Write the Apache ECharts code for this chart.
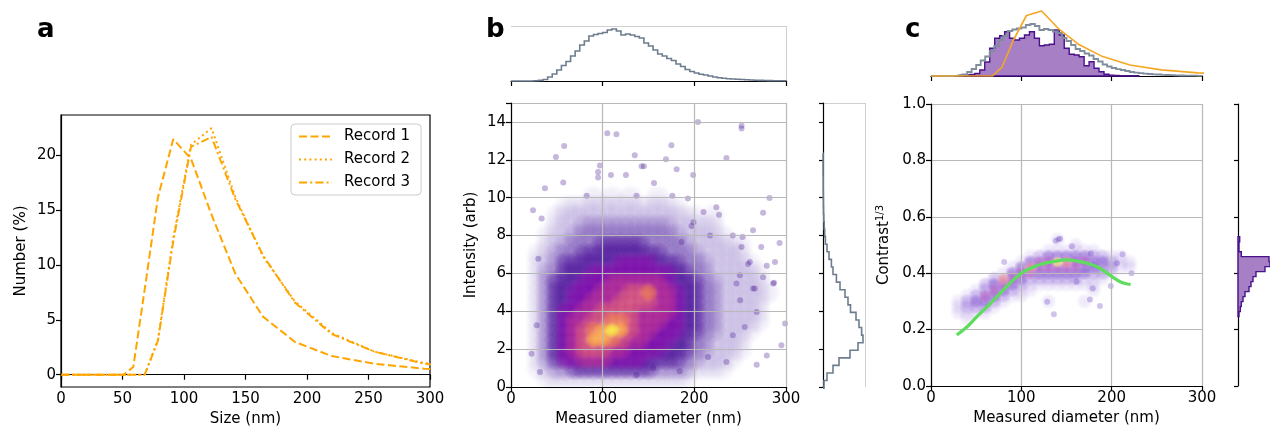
<!DOCTYPE html>
<html>
<head>
<meta charset="utf-8">
<script src="https://cdn.jsdelivr.net/npm/echarts@6/dist/echarts.min.js"></script>
<style>html,body{margin:0;padding:0;background:#fff;}#chart{width:1270px;height:427px;}</style>
</head>
<body>
<div id="chart"></div>
<script>
// ---------------- DATA ----------------
// Panel a: DLS number distributions
const sizeNm  = [0.4, 10.1, 21.04, 32.67, 43.82, 50.75, 58.77, 68.06, 78.82, 91.28, 105.7, 122.4, 141.8, 164.2, 190.1, 220.2, 255.0, 295.3, 342.0];
const record1 = [0, 0, 0, 0, 0, 0, 0.7, 7.8, 16.2, 21.5, 19.7, 14.6, 9.2, 5.3, 3.0, 1.7, 1.0, 0.55, 0.3];
const record2 = [0, 0, 0, 0, 0, 0, 0, 0, 3.2, 12.5, 21.0, 22.5, 16.2, 10.8, 6.7, 3.8, 2.1, 1.06, 0.55];
const record3 = [0, 0, 0, 0, 0, 0, 0, 0, 3.1, 12.2, 20.8, 21.7, 16.0, 10.9, 6.6, 3.7, 2.1, 1.0, 0.5];
const aYTicks = [0, 5, 10, 15, 20];

// Diameter histogram (gray), bins start 0, width 5 nm
const diamBinStart = 0, diamBinWidth = 5;
const diamHist = [0,0,0,0,0, 0.2,0.6,1.5,4,7, 11,15.5,19.5,25,30, 36,40,45,46.5,47.5,
  48.5,51,52,50,46, 47,46,44.5,43,38, 35,31,27,25,22.5, 20.5,17,14.5,11.5,9.5,
  8,6.8,6,5,4, 3.3,2.8,2.3,2,1.7, 1.5,1.2,1,0.8,0.6, 0.5,0.4,0.3,0.3,0.2];

// Intensity histogram (gray, right of b), bins start -0.06, width 0.4
const intBinStart = -0.06, intBinWidth = 0.4;
const intHist = [1,4,10,16,27,35,40,38.6,36,33,27.5,25,22,17,13.4,10,8.4,6,4,2.4,1.7,1.2,0.8,0.5,0.4,0.3,0.2,0.2,0.1,0.1,0.1];

// Panel b density (levels 0-9), columns = diameters, rows = intensities
const bDensX = [20,30,40,50,60,70,80,90,100,110,120,130,140,150,160,170,180,190,200,210,220,230,240,250,260,270,280,290];
const bDensY = [10,9.5,9,8.5,8,7.5,7,6.5,6,5.5,5,4.5,4,3.5,3,2.5,2,1.5,1,0.5];
const bDensity = [
 [0,0,0,0,0,0,0,1,0,1,0,1,0,0,1,0,0,0,0,0,0,0,0,0,0,0,0,0],
 [0,0,0,0,1,1,1,1,1,1,1,1,1,1,1,1,1,0,0,0,0,0,0,0,0,0,0,0],
 [0,0,0,1,1,1,1,1,1,1,1,1,1,1,1,1,1,1,1,0,1,0,0,0,0,0,0,0],
 [0,0,0,1,1,1,2,2,2,2,2,2,2,2,2,2,1,1,1,1,1,0,0,0,0,0,0,0],
 [0,0,1,1,1,2,2,2,2,2,2,2,2,2,2,2,2,1,1,1,1,1,0,0,0,0,0,0],
 [0,0,1,1,2,2,2,2,3,3,3,3,3,2,2,2,2,2,1,1,1,1,1,1,0,0,0,0],
 [0,1,1,2,2,2,3,3,3,3,3,3,3,3,3,2,2,2,2,1,1,1,1,1,0,0,0,0],
 [0,1,1,2,3,3,3,3,3,3,4,4,4,4,3,3,3,2,2,2,1,1,1,1,1,0,0,0],
 [0,1,2,2,3,3,3,4,4,4,4,4,4,4,4,4,3,3,2,2,1,1,1,1,1,1,0,0],
 [0,1,2,3,3,3,4,4,4,5,5,5,5,5,5,4,3,3,3,2,2,1,1,1,1,1,0,0],
 [0,1,2,3,3,4,4,4,5,5,5,6,6,7,5,5,4,3,3,2,2,1,1,1,1,1,1,0],
 [0,1,2,3,3,4,4,5,5,5,6,6,6,6,5,5,4,3,3,2,2,1,1,1,1,1,0,0],
 [0,1,2,3,4,4,5,5,6,6,6,6,5,5,5,5,4,3,3,2,2,1,1,1,1,1,0,0],
 [0,1,2,3,4,5,5,6,6,7,7,6,5,5,5,4,4,3,3,2,2,1,1,1,1,1,0,0],
 [0,1,2,3,4,5,6,7,8,9,8,6,5,5,4,4,4,3,3,2,2,1,1,1,1,0,0,0],
 [0,1,2,3,4,5,6,8,8,7,6,5,5,4,4,4,3,3,2,2,1,1,1,1,0,0,0,0],
 [0,1,2,3,4,5,6,6,6,5,5,4,4,4,4,3,3,3,2,2,1,1,1,1,0,0,0,0],
 [0,1,2,3,4,4,5,5,5,4,4,4,4,3,3,3,3,2,2,1,1,1,1,0,0,0,0,0],
 [0,1,1,2,2,3,3,3,3,3,3,3,3,3,2,2,2,2,1,1,1,1,0,0,0,0,0,0],
 [0,0,1,1,1,1,1,1,1,1,1,1,1,1,1,1,1,1,0,0,0,0,0,0,0,0,0,0]
];
// Panel b isolated points [diameter, intensity]
const bDots = [[204,14.0],[251.5,13.8],[251.5,13.65],[105,13.4],[115,13.35],[175,12.77],[135,12.24],[142.5,11.66],[145,11.66],
  [156,10.78],[169,12.03],[235,12.1],[58,12.73],[49,12.15],[95,11.36],[95,11.06],[109,11.2],[125.4,11.2],[198.7,11.2],[180.7,11.5],
  [275,9.2],[282,9.98],[293,7.6],[287,5.5],[295,2.2],[299,3.36],[279,1.67],[268,1.18],[252.6,7.92],[264,8.28],[227,9.1],[224,9.5],
  [242,8.0],[258.6,6.5],[275,5.8],[264,5.2],[250,4.58],[268,3.96],[255,3.17],[242,2.73],[215,1.58],[235,1.32],[184,0.83],[155,0.99],
  [137,0.62],[31.6,0.79],[22.5,1.76],[28,3.26],[29.8,6.78],[33.4,8.9],[37,10.5],[24,9.33],[57,10.8],[97,11.7],[82.5,10.1],[137,10.1],
  [176,10.1],[193,9.95],[199,8.7],[210,9.24],[217,8.0],[186,7.66],[197,8.5],[251.5,7.4],[273,7.4],[288,6.6],[279,6.4],[260.6,6.6],
  [249.7,5.9],[246,5.46],[286,5.46],[266,5.2]];

// Panel c: purple histograms (selected particles)
const cDiamBinStart = 32, cDiamBinWidth = 5.5;
const cDiamHist = [0.7,1,1.5,2.5,6,14,27.7,37.7,40.3,44.3,37.7,36,37.7,41,44.3,37.7,30.3,31,31.7,46,41,27.7,21.7,21,19.3,10.3,14.3,7.7,4.3,1.7,0.7,0.5,0.3,0.3,0.3,0.3];
const cConBinStart = 0.2462, cConBinWidth = 0.0177;
const cConHist = [1,2.3,3.3,5,7,11,13,15,18,27,32,31,3.3,1,1,1.7];
// DLS record drawn on top of panel c (scaled)
const dlsScaled = [0,0,0,0,0,0,0,0,9.2,36,60.5,65,46.8,31.2,19.4,11,6.1,3.1,1.6];

// Panel c density band
const cDensX = [30,40,50,60,70,80,90,100,110,120,130,140,150,160,170,180,190,200,210,220];
const cDensY = [0.52,0.50,0.48,0.46,0.44,0.42,0.40,0.38,0.36,0.34,0.32,0.30,0.28,0.26,0.24];
const cDensity = [
 [0,0,0,0,0,0,0,0,0,0,0,1,0,0,0,0,0,0,0,0],
 [0,0,0,0,0,0,0,0,0,0,0,0,0,1,0,0,0,0,0,0],
 [0,0,0,0,0,0,0,0,0,0,1,1,1,1,1,1,0,0,0,0],
 [0,0,0,0,0,0,0,0,1,2,3,3,3,3,3,2,2,1,1,0],
 [0,0,0,0,0,0,0,1,3,4,4,6,5,4,4,3,3,2,1,1],
 [0,0,0,0,0,0,1,3,5,4,4,4,4,4,3,3,2,2,1,1],
 [0,0,0,0,0,1,3,4,4,3,3,3,3,3,3,2,2,1,0,0],
 [0,0,0,0,2,5,4,3,2,2,2,2,2,2,1,1,1,0,0,0],
 [0,0,0,2,3,4,3,2,1,1,1,1,1,1,1,1,0,0,0,0],
 [0,0,1,2,4,3,2,1,1,0,0,0,0,0,0,1,0,0,0,0],
 [0,1,2,4,3,2,1,1,0,0,0,0,0,0,0,0,0,0,0,0],
 [1,2,3,3,2,1,0,0,0,0,1,0,0,0,1,0,0,0,0,0],
 [1,2,2,2,1,0,0,0,0,0,0,0,0,0,0,0,0,0,0,0],
 [1,1,1,1,0,0,0,0,0,0,0,0,0,0,0,0,0,0,0,0],
 [0,1,0,0,0,0,0,0,0,0,0,0,0,0,0,0,0,0,0,0]
];
const cDots = [[138,0.515],[141,0.52],[143,0.522],[156,0.496],[177,0.47],[81,0.44],[212,0.467],[222,0.40],[128.6,0.299],
  [176,0.307],[136,0.254],[199,0.355],[179,0.346],[161,0.37],[187,0.284],[206,0.435]];
// Polynomial fit (green)
const cFit = [[28.5,0.181],[40,0.21],[50,0.243],[65,0.29],[80,0.34],[100,0.40],[120,0.43],[139,0.443],[150,0.447],
  [165,0.441],[175,0.433],[184,0.423],[195,0.40],[205,0.378],[212,0.366],[221,0.36]];

// ---------------- HELPERS ----------------
function edgesFrom(start, width, n) { const e = []; for (let i = 0; i <= n; i++) e.push(start + width * i); return e; }
function stepPts(start, width, heights, horizontal) {
  const e = edgesFrom(start, width, heights.length);
  const p = [horizontal ? [0, e[0]] : [e[0], 0]];
  heights.forEach((h, i) => { if (horizontal) { p.push([h, e[i]], [h, e[i + 1]]); } else { p.push([e[i], h], [e[i + 1], h]); } });
  p.push(horizontal ? [0, e[e.length - 1]] : [e[e.length - 1], 0]);
  return p;
}
function histSeries(pts, xi, yi, fill, stroke, lw, z) {
  return { type: 'custom', xAxisIndex: xi, yAxisIndex: yi, data: [[0, 0]], silent: true, z: z, clip: false,
    renderItem: function (params, api) {
      return { type: fill ? 'polygon' : 'polyline', shape: { points: pts.map(q => api.coord(q)) },
        style: { fill: fill || 'none', stroke: stroke, lineWidth: lw } };
    } };
}
function rgba(c, a) { return 'rgba(' + c[0] + ',' + c[1] + ',' + c[2] + ',' + a + ')'; }
// Soft density blobs: radial gradient symbols fading to transparent
function densitySeries(xs, ys, grid, palette, sizes, xi, yi) {
  const out = [];
  for (let lev = 1; lev < palette.length; lev++) {
    const pts = [];
    grid.forEach((row, r) => row.forEach((v, c) => { if (v === lev) pts.push([xs[c], ys[r]]); }));
    const c = palette[lev];
    out.push({ type: 'scatter', xAxisIndex: xi, yAxisIndex: yi, data: pts, symbolSize: sizes[lev], silent: true, z: 2,
      itemStyle: { color: { type: 'radial', x: 0.5, y: 0.5, r: 0.5, colorStops: [
        { offset: 0, color: rgba(c, c[3]) }, { offset: 0.5, color: rgba(c, c[3] * 0.85) },
        { offset: 0.78, color: rgba(c, c[3] * 0.4) }, { offset: 1, color: rgba(c, 0) }] } } });
  }
  return out;
}

const FONT = 'DejaVu Sans';
const BLACK = { color: '#000', width: 1.2 };
const GRID_C = '#b8b8b8';
const lbl = { color: '#000', fontSize: 15, fontFamily: FONT, margin: 5 };
const nameStyle = { color: '#000', fontSize: 15, fontFamily: FONT };
const tick = { show: true, length: 5, lineStyle: BLACK };
const T = 'rgba(0,0,0,0)';

const bPalette = [null, [95,60,175,0.12], [82,35,162,0.30], [68,8,150,0.62], [120,6,168,0.85], [168,32,148,0.9],
  [205,70,120,0.92], [234,112,76,0.95], [249,160,58,0.97], [246,228,42,1]];
const bSizes = [0, 28, 27, 26, 25, 24, 22, 20, 18, 16];
const cPalette = [null, [140,100,215,0.18], [130,85,210,0.42], [125,75,205,0.7], [172,90,196,0.88], [224,130,150,0.92], [241,218,119,1]];
const cSizes = [0, 17, 16, 15, 14, 13, 12];

const pts = (xs, ys) => xs.map((x, i) => [x, ys[i]]);

// ---------------- OPTION ----------------
const option = {
  animation: false,
  backgroundColor: '#fff',
  textStyle: { fontFamily: FONT, color: '#000' },
  title: [
    { text: 'a', left: 32, top: 12, textStyle: { fontSize: 26, fontWeight: 'bold', color: '#000', fontFamily: FONT } },
    { text: 'b', left: 481, top: 12, textStyle: { fontSize: 26, fontWeight: 'bold', color: '#000', fontFamily: FONT } },
    { text: 'c', left: 900, top: 12, textStyle: { fontSize: 26, fontWeight: 'bold', color: '#000', fontFamily: FONT } }
  ],
  legend: {
    show: true, orient: 'vertical', left: 291, top: 124, itemWidth: 33, itemHeight: 16, itemGap: 8,
    padding: [5, 11, 5, 7], borderColor: '#cccccc', borderWidth: 1, borderRadius: 4, backgroundColor: 'rgba(255,255,255,0.8)',
    itemStyle: { opacity: 0 },
    textStyle: { fontSize: 15, color: '#000', fontFamily: FONT, padding: [0, 0, 0, 7] },
    data: ['Record 1', 'Record 2', 'Record 3']
  },
  grid: [
    { left: 61, top: 115, width: 369, height: 272, show: true, borderColor: '#000', borderWidth: 1.2, outerBoundsMode: 'none', containLabel: false },
    { left: 511, top: 103, width: 275, height: 284, outerBoundsMode: 'none', containLabel: false },
    { left: 511, top: 26, width: 275, height: 55, outerBoundsMode: 'none', containLabel: false },
    { left: 823, top: 103, width: 42, height: 284, outerBoundsMode: 'none', containLabel: false },
    { left: 931, top: 104, width: 271, height: 282, outerBoundsMode: 'none', containLabel: false },
    { left: 931, top: 10, width: 271, height: 66, outerBoundsMode: 'none', containLabel: false },
    { left: 1238, top: 104, width: 40, height: 282, outerBoundsMode: 'none', containLabel: false }
  ],
  xAxis: [
    { gridIndex: 0, type: 'value', min: 0, max: 300, interval: 50, axisLine: { show: true, lineStyle: BLACK }, axisTick: tick,
      axisLabel: lbl, splitLine: { show: false }, name: 'Size (nm)', nameLocation: 'middle', nameGap: 24, nameTextStyle: nameStyle },
    { gridIndex: 1, type: 'value', min: 0, max: 300, interval: 100, z: 5, axisLine: { show: true, lineStyle: BLACK }, axisTick: tick,
      axisLabel: lbl, splitLine: { show: true, lineStyle: { color: GRID_C, width: 1.2 } },
      name: 'Measured diameter (nm)', nameLocation: 'middle', nameGap: 24, nameTextStyle: nameStyle },
    { gridIndex: 2, type: 'value', min: 0, max: 300, interval: 100, axisLine: { show: true, lineStyle: BLACK }, axisTick: tick,
      axisLabel: { show: false }, splitLine: { show: true, lineStyle: { color: [T, T, T, '#cfcfcf'], width: 1 } } },
    { gridIndex: 3, type: 'value', min: 0, max: 42, interval: 42, axisLine: { show: false }, axisTick: { show: false },
      axisLabel: { show: false }, splitLine: { show: true, lineStyle: { color: [T, '#cfcfcf'], width: 1 } } },
    { gridIndex: 4, type: 'value', min: 0, max: 300, interval: 100, z: 5, axisLine: { show: true, lineStyle: BLACK }, axisTick: tick,
      axisLabel: lbl, splitLine: { show: true, lineStyle: { color: GRID_C, width: 1.2 } },
      name: 'Measured diameter (nm)', nameLocation: 'middle', nameGap: 24, nameTextStyle: nameStyle },
    { gridIndex: 5, type: 'value', min: 0, max: 300, interval: 100, axisLine: { show: true, lineStyle: BLACK }, axisTick: tick,
      axisLabel: { show: false }, splitLine: { show: false } },
    { gridIndex: 6, type: 'value', min: 0, max: 40, show: false }
  ],
  yAxis: [
    { gridIndex: 0, type: 'value', min: -1.12, max: 23.7, axisLine: { show: true, lineStyle: BLACK },
      axisTick: Object.assign({ customValues: aYTicks }, tick), axisLabel: Object.assign({ customValues: aYTicks }, lbl),
      splitLine: { show: false }, name: 'Number (%)', nameLocation: 'middle', nameGap: 32, nameTextStyle: nameStyle },
    { gridIndex: 1, type: 'value', min: 0, max: 15, interval: 2, z: 5, axisLine: { show: true, lineStyle: BLACK }, axisTick: tick,
      axisLabel: Object.assign({ formatter: v => (v > 14.5 ? '' : String(v)) }, lbl),
      splitLine: { show: true, lineStyle: { color: GRID_C, width: 1.2 } },
      name: 'Intensity (arb)', nameLocation: 'middle', nameGap: 32, nameTextStyle: nameStyle },
    { gridIndex: 2, type: 'value', min: 0, max: 55, interval: 55, axisLine: { show: false }, axisTick: { show: false },
      axisLabel: { show: false }, splitLine: { show: true, lineStyle: { color: [T, '#cfcfcf'], width: 1 } } },
    { gridIndex: 3, type: 'value', min: 0, max: 15, interval: 2, axisLine: { show: true, lineStyle: BLACK },
      axisTick: { show: true, length: 4, lineStyle: BLACK }, axisLabel: { show: false },
      splitLine: { show: true, lineStyle: { color: [T, T, T, T, T, T, T, T, '#cfcfcf'], width: 1 } } },
    { gridIndex: 4, type: 'value', min: 0, max: 1, interval: 0.2, z: 5, axisLine: { show: true, lineStyle: BLACK }, axisTick: tick,
      axisLabel: Object.assign({ formatter: v => v.toFixed(1) }, lbl),
      splitLine: { show: true, lineStyle: { color: GRID_C, width: 1.2 } },
      name: 'Contrast{sup|1/3}', nameLocation: 'middle', nameGap: 37,
      nameTextStyle: Object.assign({ rich: { sup: { fontSize: 10, fontFamily: FONT, color: '#000', verticalAlign: 'top', padding: [0, 0, 9, 0] } } }, nameStyle) },
    { gridIndex: 5, type: 'value', min: 0, max: 66, show: false },
    { gridIndex: 6, type: 'value', min: 0, max: 1, interval: 0.2, axisLine: { show: true, lineStyle: BLACK },
      axisTick: { show: true, length: 4, lineStyle: BLACK }, axisLabel: { show: false }, splitLine: { show: false } }
  ],
  series: []
};

const orange = '#FFA500';
const lineBase = { type: 'line', xAxisIndex: 0, yAxisIndex: 0, showSymbol: false, symbol: 'circle', symbolSize: 1, z: 3, itemStyle: { color: orange } };
option.series.push(
  Object.assign({ name: 'Record 1', data: pts(sizeNm, record1), lineStyle: { color: orange, width: 2, type: [8, 3.5] } }, lineBase),
  Object.assign({ name: 'Record 2', data: pts(sizeNm, record2), lineStyle: { color: orange, width: 2, type: [2, 3.2] } }, lineBase),
  Object.assign({ name: 'Record 3', data: pts(sizeNm, record3), lineStyle: { color: orange, width: 2, type: [8, 3.2, 2, 3.2] } }, lineBase)
);

// Panel b
option.series.push(...densitySeries(bDensX, bDensY, bDensity, bPalette, bSizes, 1, 1));
option.series.push({ type: 'scatter', xAxisIndex: 1, yAxisIndex: 1, data: bDots, symbolSize: 6, silent: true, z: 2,
  itemStyle: { color: 'rgba(70,20,145,0.38)' } });
option.series.push(histSeries(stepPts(diamBinStart, diamBinWidth, diamHist, false), 2, 2, null, '#6d7d8f', 1.6, 3));
option.series.push(histSeries(stepPts(intBinStart, intBinWidth, intHist, true), 3, 3, null, '#6d7d8f', 1.6, 3));

// Panel c
option.series.push(...densitySeries(cDensX, cDensY, cDensity, cPalette, cSizes, 4, 4));
option.series.push({ type: 'scatter', xAxisIndex: 4, yAxisIndex: 4, data: cDots, symbolSize: 6, silent: true, z: 2,
  itemStyle: { color: 'rgba(110,70,195,0.4)' } });
option.series.push({ type: 'line', xAxisIndex: 4, yAxisIndex: 4, data: cFit, smooth: 0.4, showSymbol: false, symbol: 'none', silent: true, z: 6,
  lineStyle: { color: '#5edc5e', width: 3.2 } });
option.series.push(histSeries(stepPts(cDiamBinStart, cDiamBinWidth, cDiamHist, false), 5, 5, '#a77fc4', '#4a128a', 1.4, 2));
option.series.push(histSeries(stepPts(diamBinStart, diamBinWidth, diamHist, false), 5, 5, null, '#7f8d9c', 1.8, 3));
option.series.push({ type: 'line', xAxisIndex: 5, yAxisIndex: 5, data: pts(sizeNm, dlsScaled), showSymbol: false, symbol: 'none', silent: true, z: 4,
  lineStyle: { color: '#f5a623', width: 1.6 } });
option.series.push(histSeries(stepPts(cConBinStart, cConBinWidth, cConHist, true), 6, 6, '#a77fc4', '#4a128a', 1.4, 2));

const chart = echarts.init(document.getElementById('chart'), null, { renderer: 'canvas' });
chart.setOption(option);
</script>
</body>
</html>
